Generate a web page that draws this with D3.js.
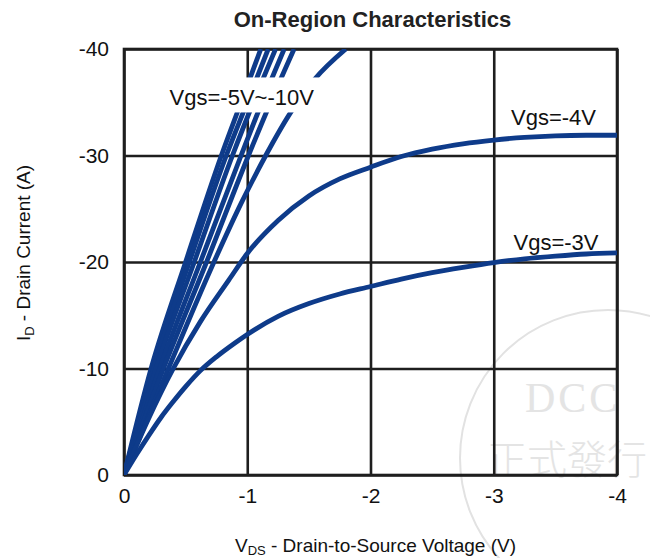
<!DOCTYPE html>
<html>
<head>
<meta charset="utf-8">
<script src="https://cdn.jsdelivr.net/npm/d3@7"></script>
<style>
  body { margin: 0; background: #fff; }
  svg { display: block; font-family: 'Liberation Sans', Arial, sans-serif; }
</style>
</head>
<body>
<div class="canvas"></div>
<script>
// axis ticks
const xTicks = [0, -1, -2, -3, -4]
const yTicks = [0, -10, -20, -30, -40]

// [Vds, Id] points
const vgs10 = [[0, 0], [-0.22, -10], [-0.50, -20], [-0.79, -30], [-0.95, -35], [-1.11, -40]]
const vgs9 = [[0, 0], [-0.24, -10], [-0.53, -20], [-0.83, -30], [-1.00, -35], [-1.17, -40]]
const vgs8 = [[0, 0], [-0.26, -10], [-0.57, -20], [-0.88, -30], [-1.05, -35], [-1.23, -40]]
const vgs7 = [[0, 0], [-0.29, -10], [-0.62, -20], [-0.95, -30], [-1.12, -35], [-1.30, -40]]
const vgs6 = [[0, 0], [-0.32, -10], [-0.67, -20], [-1.01, -30], [-1.19, -35], [-1.38, -40]]
const vgs5 = [[0, 0], [-0.36, -10], [-0.73, -20], [-0.95, -25.5], [-1.15, -30], [-1.35, -34],
  [-1.55, -37.2], [-1.80, -40]]
const vgs4 = [[0, 0], [-0.2, -5.3], [-0.4, -10], [-0.62, -14.4], [-0.85, -18.3], [-1.0, -20.8],
  [-1.25, -23.9], [-1.5, -26.2], [-1.75, -27.8], [-2.0, -28.9], [-2.25, -29.9], [-2.5, -30.6],
  [-2.75, -31.1], [-3.0, -31.45], [-3.25, -31.7], [-3.5, -31.85], [-3.75, -31.9], [-4.0, -31.9]]
const vgs3 = [[0, 0], [-0.1, -1.9], [-0.2, -3.7], [-0.3, -5.4], [-0.4, -6.9], [-0.5, -8.3],
  [-0.62, -9.8], [-0.75, -11.1], [-0.9, -12.4], [-1.0, -13.2], [-1.25, -14.9], [-1.5, -16.1],
  [-1.75, -17.0], [-2.0, -17.7], [-2.25, -18.4], [-2.5, -19.0], [-2.75, -19.5], [-3.0, -19.95],
  [-3.25, -20.3], [-3.5, -20.55], [-3.75, -20.75], [-4.0, -20.85]]

const curves = [vgs10, vgs9, vgs8, vgs7, vgs6, vgs5, vgs4, vgs3]

const labels = [
  {text: 'Vgs=-5V~-10V', x: -0.37, y: -34.7, box: true},
  {text: 'Vgs=-4V', x: -3.14, y: -32.85},
  {text: 'Vgs=-3V', x: -3.16, y: -21.1}
]

const width = 650
const height = 558
const blue = '#0e3b8a'
const ink = '#1e1e1e'

const svg = d3.select('.canvas').append('svg')
  .attr('width', width)
  .attr('height', height)

const x = d3.scaleLinear().domain([0, -4]).range([124, 617])
const y = d3.scaleLinear().domain([0, -40]).range([475, 49])

// faint stamp in the corner
const stamp = svg.append('g').attr('fill', '#e4e4e4')
stamp.append('circle')
  .attr('cx', 608).attr('cy', 458).attr('r', 148)
  .attr('fill', 'none').attr('stroke', '#e2e2e2').attr('stroke-width', 2)
stamp.append('text')
  .attr('x', 525).attr('y', 412)
  .attr('font-family', "'Liberation Serif', serif")
  .attr('font-size', 42).attr('letter-spacing', 3)
  .text('DCC')
stamp.append('text')
  .attr('x', 487).attr('y', 474)
  .attr('font-family', "'Noto Sans CJK TC', sans-serif")
  .attr('font-weight', 300)
  .attr('font-size', 40)
  .text('正式發行')

// grid + tick labels
svg.append('g')
  .attr('transform', `translate(0, ${y(0)})`)
  .call(d3.axisBottom(x).tickValues(xTicks).tickFormat(d => String(d))
    .tickSize(-(y(0) - y(-40))).tickPadding(13))
svg.append('g')
  .attr('transform', `translate(${x(0)}, 0)`)
  .call(d3.axisLeft(y).tickValues(yTicks).tickFormat(d => String(d))
    .tickSize(-(x(-4) - x(0))).tickPadding(15))

svg.selectAll('.domain').remove()
svg.selectAll('.tick line').attr('stroke', ink).attr('stroke-width', 2.6)
svg.selectAll('.tick text')
  .attr('fill', '#111')
  .attr('font-size', 21)
  .attr('font-family', "'Liberation Sans', Arial, sans-serif")

svg.append('rect')
  .attr('x', x(0)).attr('y', y(-40))
  .attr('width', x(-4) - x(0)).attr('height', y(0) - y(-40))
  .attr('fill', 'none').attr('stroke', ink).attr('stroke-width', 2.6)

// curves
svg.append('clipPath').attr('id', 'plot')
  .append('rect')
  .attr('x', x(0)).attr('y', y(-40))
  .attr('width', x(-4) - x(0)).attr('height', y(0) - y(-40))

const makeLine = d3.line()
  .x(d => x(d[0]))
  .y(d => y(d[1]))
  .curve(d3.curveMonotoneX)

svg.append('g').attr('clip-path', 'url(#plot)')
  .selectAll('path')
  .data(curves)
  .join('path')
  .attr('d', makeLine)
  .attr('fill', 'none')
  .attr('stroke', blue)
  .attr('stroke-width', 4.8)

// curve labels
labels.forEach(l => {
  const g = svg.append('g')
  const box = g.append('rect').attr('fill', '#fff')
  const t = g.append('text')
    .attr('x', x(l.x)).attr('y', y(l.y))
    .attr('font-size', 22)
    .attr('fill', '#111')
    .text(l.text)
  if (l.box) {
    const b = t.node().getBBox()
    box.attr('x', b.x - 8).attr('y', b.y - 8)
      .attr('width', b.width + 16).attr('height', b.height + 10)
  } else {
    box.remove()
  }
})

// titles
svg.append('text')
  .attr('x', (x(0) + x(-4)) / 2 + 2).attr('y', 27)
  .attr('text-anchor', 'middle')
  .attr('font-size', 22).attr('font-weight', 'bold')
  .attr('fill', '#222')
  .text('On-Region Characteristics')

const xTitle = svg.append('text')
  .attr('x', (x(0) + x(-4)) / 2 + 5).attr('y', 552)
  .attr('text-anchor', 'middle')
  .attr('font-size', 19)
  .attr('fill', '#111')
xTitle.append('tspan').text('V')
xTitle.append('tspan').attr('font-size', 13).attr('dy', 3).text('DS')
xTitle.append('tspan').attr('dy', -3).text(' - Drain-to-Source Voltage (V)')

const yTitle = svg.append('text')
  .attr('transform', `translate(30, ${(y(0) + y(-40)) / 2 - 9}) rotate(-90)`)
  .attr('text-anchor', 'middle')
  .attr('font-size', 19)
  .attr('fill', '#111')
yTitle.append('tspan').text('I')
yTitle.append('tspan').attr('font-size', 13).attr('dy', 4).text('D')
yTitle.append('tspan').attr('dy', -4).text(' - Drain Current (A)')
</script>
</body>
</html>
